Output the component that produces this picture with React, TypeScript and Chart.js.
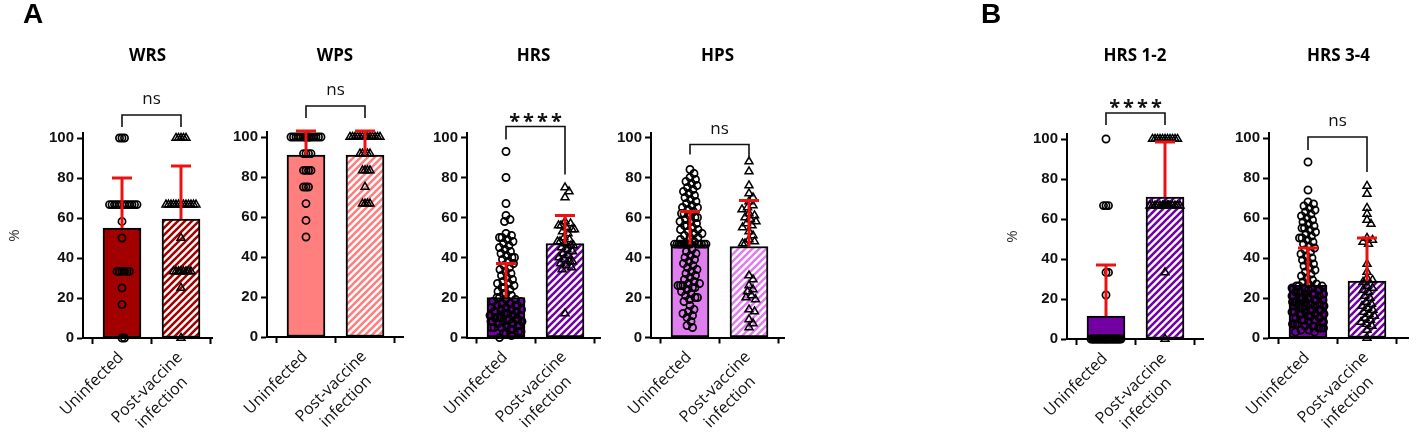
import React, { useEffect, useRef } from 'react';
import { Chart, registerables } from 'chart.js';

Chart.register(...registerables);

// ---------------- data ----------------
const categories = ['Uninfected', 'Post-vaccine infection'];
const tickLabels: string[][] = [['Uninfected'], ['Post-vaccine', 'infection']];
const yTicks = [0, 20, 40, 60, 80, 100];
const panelTitles = ['WRS', 'WPS', 'HRS', 'HPS', 'HRS 1-2', 'HRS 3-4'];
const sigLabels = ['ns', 'ns', '****', 'ns', '****', 'ns'];

// bar means and upward SD
const wrsMean = [55, 59.5];
const wrsSD = [25, 26.5];
const wpsMean = [91, 91];
const wpsSD = [12, 12];
const hrsMean = [20, 47];
const hrsSD = [17, 14];
const hpsMean = [46.5, 45.5];
const hpsSD = [16.5, 23];
const hrs12Mean = [11.5, 71];
const hrs12SD = [25.5, 27.5];
const hrs34Mean = [26.5, 28.5];
const hrs34SD = [18.5, 21.5];

// significance bracket levels (y units)
const bracketTop = [111.5, 115.5, 105.5, 96.5, 113, 100.5];
const bracketLeftEnd = [105.5, 109.5, 99, 91.5, 107, 94];
const bracketRightEnd = [105.5, 109.5, 81.5, 89, 107, 83];

// individual values
const wrsUninfected = [100, 100, 100, 66.7, 66.7, 66.7, 66.7, 66.7, 66.7, 66.7, 66.7, 66.7, 66.7, 66.7, 66.7, 58.3, 50,
  33.3, 33.3, 33.3, 33.3, 33.3, 33.3, 25, 16.7, 0, 0];
const wrsPostVaccine = [100, 100, 100, 100, 100, 66.7, 66.7, 66.7, 66.7, 66.7, 66.7, 66.7, 66.7, 66.7, 66.7, 66.7, 66.7, 66.7,
  50, 33.3, 33.3, 33.3, 33.3, 33.3, 33.3, 33.3, 33.3, 25, 0];

const wpsUninfected = [100, 100, 100, 100, 100, 100, 100, 100, 100, 100, 100, 100, 100, 100, 100, 100, 91.7, 91.7, 91.7, 91.7,
  83.3, 83.3, 83.3, 83.3, 75, 75, 75, 66.7, 58.3, 50];
const wpsPostVaccine = [100, 100, 100, 100, 100, 100, 100, 100, 100, 100, 100, 100, 100, 100, 91.7, 91.7, 91.7, 91.7, 91.7,
  83.3, 83.3, 83.3, 83.3, 75, 66.7, 66.7, 66.7, 66.7];

const hrsUninfected = [93, 80, 67, 61, 59, 58,
  52, 51, 50, 50, 49, 48, 47, 46, 45, 44, 43, 42, 41, 40, 40,
  39, 38, 37, 36, 35, 34, 33, 32, 31, 30,
  29, 28, 27, 27, 26, 25, 25, 24, 23, 22, 22, 21, 20, 20,
  19, 19, 18, 18, 17, 17, 16, 16, 16, 15, 15, 14, 14, 14, 13, 13, 13, 12, 12, 12, 11, 11, 11, 10, 10, 10, 10,
  9, 9, 9, 9, 8, 8, 8, 8, 7, 7, 7, 6, 6, 6, 5, 5, 5, 4, 4, 3, 3, 2, 2, 1, 0];
const hrsPostVaccine = [75, 73, 70, 58, 57, 56, 56, 55, 54, 54, 53, 52, 50, 49, 48, 48, 47, 46, 46, 45, 44, 43,
  42, 41, 40, 39, 38, 38, 37, 36, 35, 34, 12];

const hpsUninfected = [84, 82, 80, 79, 78, 77, 76, 75, 74, 73, 72, 71, 70, 69, 68, 67, 66, 65, 65, 64, 63, 62, 62, 61,
  60, 60, 59, 58, 58, 57, 56, 56, 55, 54, 54, 53, 52, 52, 51, 50, 50, 49, 48,
  46.7, 46.7, 46.7, 46.7, 46.7, 46.7, 46.7, 46.7, 46.7, 46.7, 46.7, 46.7, 46.7, 46.7, 46.7, 46.7,
  44, 43, 42, 41, 40, 39, 38, 37, 36, 35, 34, 33, 32, 31, 30, 29, 28, 27, 27, 26, 26, 26, 25, 25, 24, 23,
  22, 21, 20, 20, 19, 18, 16, 14, 13, 12, 11, 10, 8, 6, 5];
const hpsPostVaccine = [88, 83, 76, 72, 70, 68, 66, 65, 64, 62, 61, 60, 59, 58, 57, 56, 55, 53, 51, 49, 48, 47, 47,
  31, 29, 26, 24, 23, 21, 20, 19, 14, 13, 9, 7, 5];

const hrs12Uninfected = [100, 66.7, 66.7, 66.7, 33.3, 33.3, 22,
  0, 0, 0, 0, 0, 0, 0, 0, 0, 0, 0, 0, 0, 0, 0, 0, 0, 0, 0, 0, 0, 0, 0, 0, 0];
const hrs12PostVaccine = [100, 100, 100, 100, 100, 100, 100, 100, 100, 100, 100,
  66.7, 66.7, 66.7, 66.7, 66.7, 66.7, 66.7, 66.7, 66.7, 66.7, 66.7, 66.7, 66.7, 66.7, 66.7, 66.7, 33.3, 0];

const hrs34Uninfected = [88, 74, 68, 67, 66, 65, 64, 63, 62, 61, 60, 59, 58, 57, 56, 55, 55, 54, 53, 52, 51, 50, 50, 49, 48,
  47, 46, 45, 44, 43, 42, 41, 40, 39, 38, 37, 36, 35, 34, 33, 32, 31, 30, 29, 28,
  27, 27, 26, 26, 26, 25, 25, 25, 24, 24, 24, 23, 23, 23, 22, 22, 22, 21, 21, 21, 20, 20, 20, 20,
  19, 19, 19, 18, 18, 18, 17, 17, 17, 16, 16, 16, 15, 15, 15, 14, 14, 14, 13, 13, 13, 12, 12, 12,
  11, 11, 11, 10, 10, 10, 9, 9, 9, 8, 8, 8, 7, 7, 7, 6, 6, 5, 5, 5, 4, 4, 3, 3, 14, 16, 18, 12, 20, 22];
const hrs34PostVaccine = [76, 72, 65, 62, 59, 57, 50, 49, 48, 47, 37, 33, 30, 29, 28, 26, 25, 24, 23, 21, 20, 18,
  17, 16, 15, 14, 13, 12, 11, 10, 9, 8, 7, 6, 4, 0];

// ---------------- style / layout ----------------
const solidColors = ['#A20000', '#FF7F7F', '#7300A3', '#E07EF0', '#7300A3', '#7300A3'];
const ERR_COLOR = '#EE1111';
const AXIS_X = [83, 267, 467, 651, 1067, 1269];
const AXIS_END = [212, 403, 600, 784, 1203, 1408];
const ZERO_Y = [338, 337, 337.5, 337.5, 339, 338];
const Y_AXIS_W = [77, 50, 50, 50, 63, 50];
const SHOW_PCT = [true, false, false, false, true, false];
const W = 1417;
const H = 433;
const UNIT_X = 59;
const FIRST_OFF = 39;
const Y_MAX = 102.5;
const PX_PER_Y = 2;
const X_AXIS_H = 80;
const TITLE_Y = 56;
const LABEL_FONT = '16px "Open Sans"';
const LABEL_LH = 21;

const means = [wrsMean, wpsMean, hrsMean, hpsMean, hrs12Mean, hrs34Mean];
const sds = [wrsSD, wpsSD, hrsSD, hpsSD, hrs12SD, hrs34SD];
const uninfected = [wrsUninfected, wpsUninfected, hrsUninfected, hpsUninfected, hrs12Uninfected, hrs34Uninfected];
const postVaccine = [wrsPostVaccine, wpsPostVaccine, hrsPostVaccine, hpsPostVaccine, hrs12PostVaccine, hrs34PostVaccine];

// column-scatter layout: horizontal offsets (px) so markers do not pile up
function swarmOffsets(vals: number[], sameDist: number, minDist: number, maxHalf: number): number[] {
  const placed: { x: number; y: number }[] = [];
  const out: number[] = new Array(vals.length).fill(0);
  const order = vals.map((_, i) => i).sort((a, b) => vals[b] - vals[a]);
  const cands: number[] = [0];
  for (let s = 0.5; s <= maxHalf + 1e-9; s += 0.5) cands.push(s, -s);
  for (const i of order) {
    const yv = vals[i] * PX_PER_Y;
    let best = 0;
    let bestScore = -Infinity;
    for (const c of cands) {
      let score = Infinity;
      for (const p of placed) {
        const dx = p.x - c;
        const dy = p.y - yv;
        const need = Math.abs(dy) < 1e-6 ? sameDist : minDist;
        const s = Math.sqrt(dx * dx + dy * dy) - need;
        if (s < score) score = s;
      }
      if (score >= -1e-6) {
        best = c;
        bestScore = Infinity;
        break;
      }
      if (score > bestScore) {
        bestScore = score;
        best = c;
      }
    }
    placed.push({ x: best, y: yv });
    out[i] = best;
  }
  return out;
}

function toPoints(vals: number[], group: number) {
  const offs = swarmOffsets(vals, 2.5, 5.5, 16);
  return vals.map((v, i) => ({ x: group + offs[i] / UNIT_X, y: v }));
}

function makeStripe(color: string) {
  const P = 7;
  const c = document.createElement('canvas');
  c.width = P;
  c.height = P;
  const g = c.getContext('2d')!;
  g.fillStyle = '#ffffff';
  g.fillRect(0, 0, P, P);
  g.strokeStyle = color;
  g.lineWidth = 2.6;
  g.beginPath();
  g.moveTo(0, P);
  g.lineTo(P, 0);
  g.moveTo(-P / 2, P / 2);
  g.lineTo(P / 2, -P / 2);
  g.moveTo(P / 2, P * 1.5);
  g.lineTo(P * 1.5, P / 2);
  g.stroke();
  return g.createPattern(c, 'repeat');
}

function decorPlugin(i: number) {
  return {
    id: 'decor' + i,
    afterDatasetsDraw(chart: any) {
      const { ctx } = chart;
      const x = chart.scales.x;
      const y = chart.scales.y;
      ctx.save();
      // error bars (mean -> mean + SD)
      ctx.strokeStyle = ERR_COLOR;
      ctx.lineWidth = 3;
      for (let k = 0; k < 2; k++) {
        const px = x.getPixelForValue(k);
        const y0 = y.getPixelForValue(means[i][k]);
        const y1 = y.getPixelForValue(means[i][k] + sds[i][k]);
        ctx.beginPath();
        ctx.moveTo(px, y0);
        ctx.lineTo(px, y1);
        ctx.stroke();
        ctx.beginPath();
        ctx.moveTo(px - 10, y1);
        ctx.lineTo(px + 10, y1);
        ctx.stroke();
      }
      // bracket
      const xl = x.getPixelForValue(0);
      const xr = x.getPixelForValue(1);
      const yt = y.getPixelForValue(bracketTop[i]);
      ctx.strokeStyle = '#111';
      ctx.lineWidth = 1.6;
      ctx.beginPath();
      ctx.moveTo(xl, y.getPixelForValue(bracketLeftEnd[i]));
      ctx.lineTo(xl, yt);
      ctx.lineTo(xr, yt);
      ctx.lineTo(xr, y.getPixelForValue(bracketRightEnd[i]));
      ctx.stroke();
      // significance text
      ctx.fillStyle = '#111';
      ctx.textAlign = 'center';
      ctx.textBaseline = 'alphabetic';
      const xm = (xl + xr) / 2;
      if (sigLabels[i] === 'ns') {
        ctx.font = '17px "Open Sans"';
        ctx.fillText(sigLabels[i], xm, yt - 11);
      } else {
        ctx.font = 'bold 20px "Open Sans"';
        try { (ctx as any).letterSpacing = '3px'; } catch (e) { /* ignore */ }
        ctx.fillText(sigLabels[i], xm + 1.5, yt + 1);
        try { (ctx as any).letterSpacing = '0px'; } catch (e) { /* ignore */ }
      }
      // panel title
      ctx.font = 'bold 17px "Open Sans"';
      ctx.textBaseline = 'middle';
      ctx.fillStyle = '#000';
      const ca = chart.chartArea;
      ctx.fillText(panelTitles[i], (ca.left + ca.right) / 2, TITLE_Y);
      // category labels, rotated 45 degrees, lines centred on each other
      ctx.font = LABEL_FONT;
      ctx.fillStyle = '#111';
      ctx.textBaseline = 'middle';
      for (let k = 0; k < 2; k++) {
        const lines = tickLabels[k];
        const widths = lines.map((l) => ctx.measureText(l).width);
        const maxW = Math.max(...widths);
        ctx.save();
        ctx.translate(x.getPixelForValue(k) - 1, ca.bottom + 17);
        ctx.rotate(-Math.PI / 4);
        ctx.textAlign = 'center';
        lines.forEach((l, j) => {
          ctx.fillText(l, -maxW / 2, j * LABEL_LH);
        });
        ctx.restore();
      }
      ctx.restore();
    },
  };
}

function makeConfig(i: number) {
  const xMin = -FIRST_OFF / UNIT_X;
  const xMax = xMin + (AXIS_END[i] - AXIS_X[i]) / UNIT_X;
  const top = ZERO_Y[i] - Y_MAX * PX_PER_Y;
  return {
    type: 'bar',
    data: {
      datasets: [
        {
          type: 'scatter',
          label: categories[0],
          data: toPoints(uninfected[i], 0),
          pointStyle: 'circle',
          pointRadius: 3.6,
          pointBorderWidth: 1.7,
          pointBorderColor: '#000',
          pointBackgroundColor: 'rgba(0,0,0,0)',
          showLine: false,
          order: 1,
          clip: false,
        },
        {
          type: 'scatter',
          label: categories[1],
          data: toPoints(postVaccine[i], 1),
          pointStyle: 'triangle',
          pointRadius: 4.6,
          pointBorderWidth: 1.5,
          pointBorderColor: '#000',
          pointBackgroundColor: 'rgba(0,0,0,0)',
          showLine: false,
          order: 1,
          clip: false,
        },
        {
          type: 'bar',
          label: panelTitles[i],
          data: [{ x: 0, y: means[i][0] }, { x: 1, y: means[i][1] }],
          backgroundColor: [solidColors[i], makeStripe(solidColors[i])],
          borderColor: '#000',
          borderWidth: 2,
          borderSkipped: false,
          barThickness: 38,
          order: 2,
        },
      ],
    },
    options: {
      responsive: false,
      animation: false,
      events: [],
      layout: {
        padding: {
          left: AXIS_X[i] - Y_AXIS_W[i],
          right: W - AXIS_END[i],
          top: top,
          bottom: H - ZERO_Y[i] - X_AXIS_H,
        },
      },
      plugins: { legend: { display: false }, tooltip: { enabled: false }, title: { display: false } },
      scales: {
        x: {
          type: 'linear',
          min: xMin,
          max: xMax,
          offset: false,
          afterBuildTicks: (s: any) => { s.ticks = [0, 1].map((v) => ({ value: v })); },
          afterFit: (s: any) => { s.height = X_AXIS_H; },
          grid: { drawOnChartArea: false, drawTicks: true, tickLength: 6, tickWidth: 2, tickColor: '#000' },
          border: { display: true, color: '#000', width: 2 },
          ticks: { display: false, autoSkip: false },
        },
        y: {
          type: 'linear',
          min: 0,
          max: Y_MAX,
          afterBuildTicks: (s: any) => { s.ticks = yTicks.map((v) => ({ value: v })); },
          afterFit: (s: any) => { s.width = Y_AXIS_W[i]; },
          grid: { drawOnChartArea: false, drawTicks: true, tickLength: 6, tickWidth: 2, tickColor: '#000' },
          border: { display: true, color: '#000', width: 2 },
          ticks: {
            padding: 3,
            color: '#111',
            font: { family: '"Liberation Sans", Arial', size: 15, weight: 'bold' },
          },
          title: {
            display: SHOW_PCT[i],
            text: '%',
            color: '#333',
            font: { family: '"Open Sans"', size: 15 },
            padding: { top: 0, bottom: 0 },
          },
        },
      },
    },
    plugins: [decorPlugin(i)],
  };
}

export default function App() {
  const refs = useRef<(HTMLCanvasElement | null)[]>([]);
  useEffect(() => {
    const charts = panelTitles.map((_, i) => new Chart(refs.current[i] as HTMLCanvasElement, makeConfig(i) as any));
    return () => charts.forEach((c) => c.destroy());
  }, []);
  const letter: React.CSSProperties = {
    position: 'absolute',
    top: 0,
    font: 'bold 28px "Liberation Sans", Arial, sans-serif',
    lineHeight: '28px',
    color: '#000',
  };
  return (
    <div style={{ position: 'fixed', left: 0, top: 0, width: W, height: H, background: '#fff', overflow: 'hidden' }}>
      {panelTitles.map((t, i) => (
        <canvas
          key={t}
          ref={(el) => { refs.current[i] = el; }}
          width={W}
          height={H}
          style={{ position: 'absolute', left: 0, top: 0, width: W, height: H }}
        />
      ))}
      <div style={{ ...letter, left: 23 }}>A</div>
      <div style={{ ...letter, left: 981 }}>B</div>
    </div>
  );
}
